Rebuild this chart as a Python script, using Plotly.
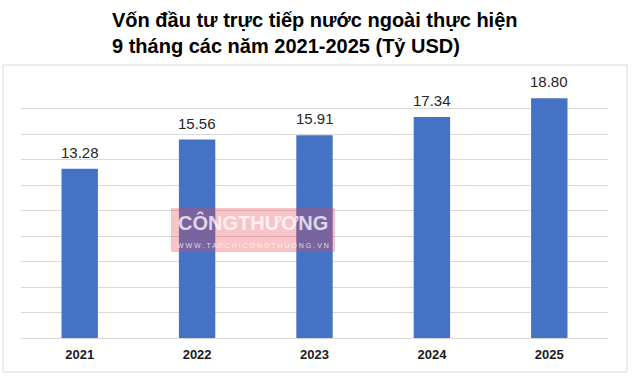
import plotly.graph_objects as go

years = ["2021", "2022", "2023", "2024", "2025"]
values = [13.28, 15.56, 15.91, 17.34, 18.80]
labels = ["13.28", "15.56", "15.91", "17.34", "18.80"]
title_lines = ["Vốn đầu tư trực tiếp nước ngoài thực hiện", "9 tháng các năm 2021-2025 (Tỷ USD)"]

W, H = 634, 377
L, R, T, B = 21, 26, 83, 39
pw, ph = W - L - R, H - T - B

def px(x):
    return (x - L) / pw

def py(y):
    return (H - B - y) / ph

FONT = "Arial, 'Liberation Sans', sans-serif"

fig = go.Figure(go.Bar(
    x=years, y=values,
    marker=dict(color="#4472C4", line=dict(width=0)),
    width=0.31,
))

label_anns = [
    dict(x=i, y=v, text=t, xref="x", yref="y", yanchor="bottom", xanchor="center",
         showarrow=False, yshift=6,
         font=dict(family=FONT, size=15, color="#262626"))
    for i, (v, t) in enumerate(zip(values, labels))
]

fig.update_layout(
    width=W, height=H,
    margin=dict(l=L, r=R, t=T, b=B),
    paper_bgcolor="white", plot_bgcolor="white",
    showlegend=False,
    xaxis=dict(type="category", range=[-0.5, len(years) - 0.5], showgrid=False,
               showline=True, linecolor="#d9d9d9",
               ticks="", ticklabelstandoff=4,
               tickfont=dict(family=FONT, size=13, color="#1a1a1a", weight="bold")),
    yaxis=dict(range=[0, 20], dtick=2, showgrid=True, gridcolor="#d9d9d9", gridwidth=1,
               showticklabels=False, zeroline=False, showline=False, ticks=""),
    shapes=[
        dict(type="rect", xref="paper", yref="paper",
             x0=px(3), x1=px(627), y0=py(372), y1=py(65),
             line=dict(color="#d9d9d9", width=1), fillcolor="rgba(0,0,0,0)", layer="below"),
        dict(type="rect", xref="paper", yref="paper",
             x0=px(171), x1=px(335), y0=py(252), y1=py(208),
             line=dict(width=0), fillcolor="rgba(235,70,80,0.32)", layer="above"),
    ],
    annotations=label_anns + [
        dict(text="<b>" + "<br>".join(title_lines) + "</b>", xref="paper", yref="paper",
             x=px(110), y=py(7), xanchor="left", yanchor="top", align="left", showarrow=False,
             font=dict(family=FONT, size=20, color="black")),
        dict(text="<b>CÔNGTHƯƠNG</b>", xref="paper", yref="paper",
             x=px(253), y=py(222), xanchor="center", yanchor="middle", showarrow=False,
             font=dict(family=FONT, size=20, color="rgba(255,255,255,0.75)")),
        dict(text="W W W . T A P C H I C O N G T H U O N G . V N", xref="paper", yref="paper",
             x=px(253), y=py(245), xanchor="center", yanchor="middle", showarrow=False,
             font=dict(family=FONT, size=7, color="rgba(255,255,255,0.75)")),
    ],
)

fig.write_html("out.html")
